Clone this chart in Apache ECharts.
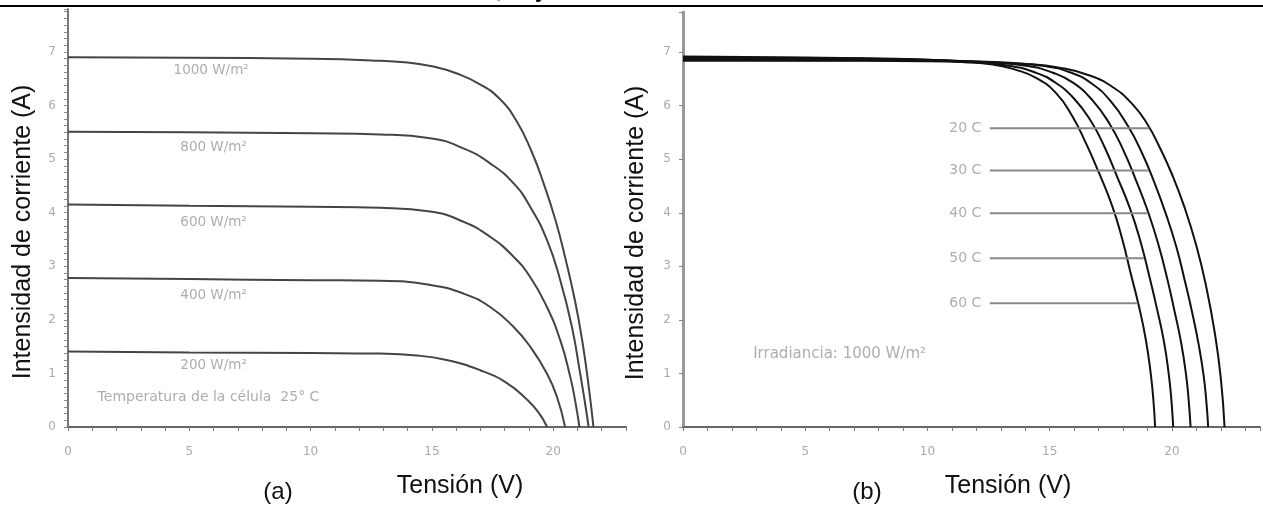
<!DOCTYPE html>
<html>
<head>
<meta charset="utf-8">
<script src="https://cdn.jsdelivr.net/npm/echarts@6/dist/echarts.min.js"></script>
<style>
  html, body { margin: 0; padding: 0; background: #fff; }
  #main { width: 1263px; height: 509px; }
</style>
</head>
<body>
<div id="main"></div>
<script>
// (a) curvas I-V a 25 C para distintas irradiancias  [V, I]
const a1000 = [[0,6.90],[5,6.89],[10,6.87],[12.5,6.84],[14,6.80],[15,6.73],[16,6.60],[17,6.39],[17.8,6.12],[18.5,5.70],[19.1,5.15],[19.6,4.55],[20.1,3.85],[20.5,3.15],[20.9,2.35],[21.2,1.6],[21.45,0.8],[21.66,0]];
const a800 = [[0,5.51],[5,5.50],[10,5.48],[12.87,5.46],[14.93,5.39],[16.3,5.20],[17.4,4.92],[18.36,4.55],[19.05,4.11],[19.74,3.49],[20.29,2.74],[20.77,1.87],[21.11,1.0],[21.3,0.48],[21.46,0]];
const a600 = [[0,4.15],[5,4.13],[10,4.11],[12.87,4.09],[14.93,4.02],[16.3,3.83],[17.4,3.55],[18.36,3.18],[19.05,2.80],[19.74,2.24],[20.29,1.62],[20.7,0.94],[20.92,0.45],[21.08,0]];
const a400 = [[0,2.78],[5,2.76],[10,2.74],[12.87,2.73],[14.93,2.65],[16.3,2.49],[17.4,2.24],[18.36,1.87],[19.05,1.50],[19.74,1.00],[20.15,0.57],[20.49,0]];
const a200 = [[0,1.41],[5,1.39],[10,1.38],[12.87,1.37],[14.24,1.34],[15.6,1.25],[16.99,1.06],[18.09,0.82],[18.9,0.52],[19.4,0.27],[19.75,0]];
const irrLabels = ['1000 W/m²', '800 W/m²', '600 W/m²', '400 W/m²', '200 W/m²'];
const irrLabelPos = [[5.9,6.66],[6.0,5.21],[6.0,3.82],[6.0,2.46],[6.0,1.14]];

// (b) curvas I-V a 1000 W/m2 para distintas temperaturas
const b20 = [[0,6.84],[5,6.84],[10,6.83],[12,6.81],[14,6.78],[15.4,6.71],[16.6,6.57],[17.6,6.34],[18.4,6.02],[19.0,5.65],[19.5,5.22],[20.0,4.72],[20.5,4.12],[21.0,3.38],[21.4,2.62],[21.75,1.76],[22.0,0.9],[22.15,0]];
const b30 = [[0,6.86],[5,6.85],[10,6.84],[13,6.81],[14.8,6.74],[15.85,6.62],[16.7,6.42],[17.5,6.08],[18.2,5.62],[18.75,5.14],[19.25,4.6],[19.75,3.98],[20.18,3.36],[20.52,2.74],[20.83,2.13],[21.1,1.52],[21.3,0.94],[21.41,0.45],[21.48,0]];
const b40 = [[0,6.88],[5,6.87],[10,6.85],[12.5,6.81],[14.1,6.74],[15.1,6.62],[15.95,6.43],[16.75,6.10],[17.45,5.66],[18.0,5.18],[18.5,4.64],[19.02,4.02],[19.45,3.40],[19.8,2.78],[20.1,2.17],[20.38,1.56],[20.58,0.96],[20.69,0.46],[20.76,0]];
const b50 = [[0,6.90],[5,6.89],[10,6.86],[12,6.81],[13.4,6.74],[14.4,6.62],[15.2,6.44],[16.0,6.13],[16.7,5.70],[17.25,5.22],[17.75,4.68],[18.3,4.06],[18.72,3.45],[19.06,2.84],[19.38,2.22],[19.67,1.60],[19.87,0.98],[19.98,0.48],[20.05,0]];
const b60 = [[0,6.92],[5,6.90],[10,6.86],[11.3,6.82],[12.67,6.77],[13.62,6.67],[14.44,6.52],[15.25,6.24],[15.93,5.80],[16.48,5.30],[17.02,4.74],[17.56,4.12],[17.97,3.50],[18.31,2.87],[18.65,2.25],[18.93,1.63],[19.13,1.00],[19.24,0.50],[19.31,0]];
const tempLabels = ['20 C', '30 C', '40 C', '50 C', '60 C'];
const tempLeaderI = [5.58, 4.79, 3.99, 3.15, 2.31];
const tempLeaderEnd = [19.07, 19.05, 19.0, 18.85, 18.6];
const leaderStart = 12.55;

const myChart = echarts.init(document.getElementById('main'));

const intOnly = v => (Math.abs(v - Math.round(v)) < 1e-6 ? String(Math.round(v)) : '');
const fiveOnly = v => (Math.abs(v % 5) < 1e-6 ? String(v) : '');

function xAxisCfg(idx, max) {
    return {
        gridIndex: idx, type: 'value', min: 0, max: max, interval: 5,
        axisLine: { show: true, lineStyle: { color: '#666', width: 2 } },
        axisTick: { show: true, length: 4, lineStyle: { color: '#777' } },
        minorTick: { show: true, splitNumber: 5, length: 4, lineStyle: { color: '#777' } },
        axisLabel: { color: '#aaa', fontSize: 12, margin: 19, fontFamily: 'DejaVu Sans', formatter: fiveOnly },
        splitLine: { show: false }
    };
}
function yAxisCfg(idx, max, lineColor, lineWidth, minor) {
    return {
        gridIndex: idx, type: 'value', min: 0, max: max, interval: 1,
        axisLine: { show: true, lineStyle: { color: lineColor, width: lineWidth } },
        axisTick: { show: true, length: 4, lineStyle: { color: '#888' } },
        minorTick: { show: minor, splitNumber: 8, length: 4, lineStyle: { color: '#888' } },
        axisLabel: { color: '#aaa', fontSize: 12, margin: 12, fontFamily: 'DejaVu Sans', formatter: intOnly },
        splitLine: { show: false }
    };
}

function curve(data, xi, color, width) {
    return {
        type: 'line', xAxisIndex: xi, yAxisIndex: xi, data: data,
        showSymbol: false, smooth: 0.5,
        lineStyle: { color: color, width: width }, silent: true
    };
}

const series = [];
[a1000, a800, a600, a400, a200].forEach(d => series.push(curve(d, 0, '#444', 2)));
[b20, b30, b40, b50, b60].forEach(d => series.push(curve(d, 1, '#111', 2)));

// lineas guía de temperatura
tempLeaderI.forEach((iv, k) => {
    series.push({
        type: 'line', xAxisIndex: 1, yAxisIndex: 1, showSymbol: false, silent: true,
        data: [[leaderStart, iv], [tempLeaderEnd[k], iv]],
        lineStyle: { color: '#888', width: 2 }
    });
});

const noteStyle = { color: '#999', fontSize: 13, fontFamily: 'DejaVu Sans' };
function notes(xi, position, distance, fontSize, data) {
    return {
        type: 'scatter', xAxisIndex: xi, yAxisIndex: xi, symbolSize: 1, silent: true,
        itemStyle: { color: 'rgba(0,0,0,0)' },
        label: Object.assign({ show: true, position: position, distance: distance, formatter: p => p.name }, noteStyle, { fontSize: fontSize }),
        data: data
    };
}
series.push(notes(0, 'inside', 0, 13.5, irrLabels.map((n, k) => ({ name: n, value: irrLabelPos[k] }))));
series.push(notes(0, 'right', 0, 14, [{ name: 'Temperatura de la célula  25° C', value: [1.2, 0.56] }]));
series.push(notes(1, 'left', 8, 14, tempLabels.map((n, k) => ({ name: n, value: [leaderStart, tempLeaderI[k]] }))));
series.push(notes(1, 'right', 0, 15, [{ name: 'Irradiancia: 1000 W/m²', value: [2.85, 1.36] }]));

const titleFont = { fontSize: 25, fontFamily: 'Liberation Sans', fill: '#111', align: 'center', verticalAlign: 'middle' };
const capFont = { fontSize: 22, fontWeight: 'bold', fontFamily: 'Liberation Sans', fill: '#000', align: 'center', verticalAlign: 'bottom' };

const option = {
    animation: false,
    backgroundColor: '#fff',
    grid: [
        { left: 68, top: 9, right: 637, bottom: 82 },
        { left: 683, top: 12, right: 2, bottom: 82 }
    ],
    xAxis: [xAxisCfg(0, 23), xAxisCfg(1, 23.6)],
    yAxis: [yAxisCfg(0, 7.8, '#777', 2, true), yAxisCfg(1, 7.75, '#999', 3, false)],
    series: series,
    graphic: [
        { type: 'line', shape: { x1: 0, y1: 6, x2: 1263, y2: 6 }, style: { stroke: '#000', lineWidth: 2 } },
        { type: 'text', x: 499, y: 2, style: Object.assign({ text: ',' }, capFont) },
        { type: 'text', x: 541, y: 2, style: Object.assign({ text: 'y' }, capFont) },
        { type: 'text', x: 23, y: 232, rotation: Math.PI / 2, style: Object.assign({ text: 'Intensidad de corriente (A)' }, titleFont) },
        { type: 'text', x: 636, y: 233, rotation: Math.PI / 2, style: Object.assign({ text: 'Intensidad de corriente (A)' }, titleFont) },
        { type: 'text', x: 460, y: 486, style: Object.assign({ text: 'Tensión (V)' }, titleFont) },
        { type: 'text', x: 1008, y: 486, style: Object.assign({ text: 'Tensión (V)' }, titleFont) },
        { type: 'text', x: 278, y: 492, style: Object.assign({}, titleFont, { text: '(a)', fontSize: 24 }) },
        { type: 'text', x: 867, y: 492, style: Object.assign({}, titleFont, { text: '(b)', fontSize: 24 }) }
    ]
};
myChart.setOption(option);
</script>
</body>
</html>
